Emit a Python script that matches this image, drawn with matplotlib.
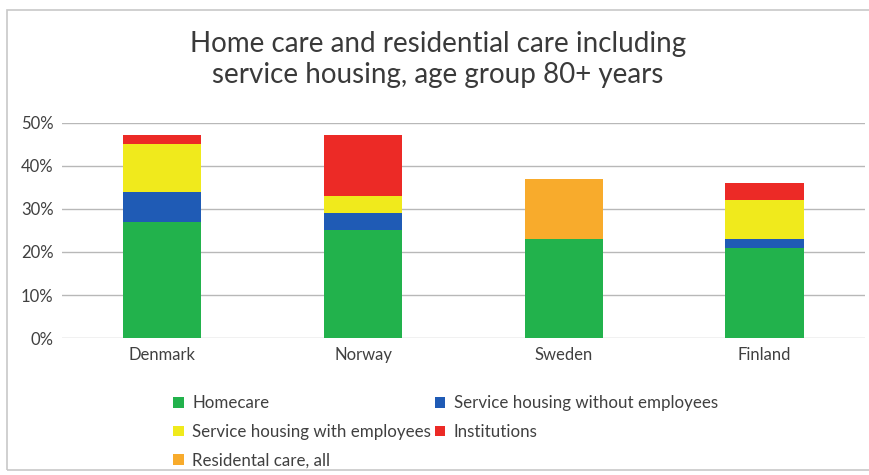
import numpy as np
import matplotlib
matplotlib.use("Agg")
import matplotlib.pyplot as plt
from matplotlib.patches import Rectangle

countries = ["Denmark", "Norway", "Sweden", "Finland"]
series_names = ["Homecare", "Service housing without employees",
                "Service housing with employees", "Institutions",
                "Residental care, all"]
homecare = [27, 25, 23, 21]
housing_without = [7, 4, 0, 2]
housing_with = [11, 4, 0, 9]
institutions = [2, 14, 0, 4]
residential_all = [0, 0, 14, 0]
colors = ["#22b24c", "#1f5bb5", "#f0ea1c", "#ec2a26", "#f8ab2c"]

plt.rcParams["font.family"] = ["Lato", "DejaVu Sans"]

fig = plt.figure(figsize=(8.69, 4.75), dpi=100)
ax = fig.add_axes([0.0713, 0.288, 0.924, 0.454])

x = np.arange(len(countries))
bottom = np.zeros(len(countries))
handles = []
for name, vals, c in zip(series_names,
                         [homecare, housing_without, housing_with, institutions, residential_all],
                         colors):
    b = ax.bar(x, vals, 0.39, bottom=bottom, color=c, label=name, zorder=3)
    handles.append(b)
    bottom += np.array(vals)

ax.set_xlim(-0.5, len(countries) - 0.5)
ax.set_ylim(0, 50)
ax.set_yticks(range(0, 51, 10))
ax.set_yticklabels([f"{v}%" for v in range(0, 51, 10)], fontsize=12, color="#404040")
ax.set_xticks(x)
ax.set_xticklabels(countries, fontsize=12, color="#404040")
ax.tick_params(length=0, pad=6)
ax.grid(axis="y", color="#b8b8b8", linewidth=1, zorder=0)
for s in ax.spines.values():
    s.set_visible(False)

fig.text(0.504, 0.875, "Home care and residential care including\nservice housing, age group 80+ years",
         ha="center", va="center", fontsize=20, color="#3a3a3a", linespacing=1.25)

# legend is filled column by column, so reorder to read row by row
order = [0, 2, 4, 1, 3]
fig.legend([handles[i] for i in order], [series_names[i] for i in order],
           loc="upper left", bbox_to_anchor=(0.182, 0.2), ncol=2, frameon=False,
           fontsize=12.2, handlelength=0.6, handleheight=0.6, handletextpad=0.5,
           columnspacing=0.25, labelspacing=0.75, labelcolor="#404040")

fig.patches.append(Rectangle((0.008, 0.01), 1.2, 0.97, transform=fig.transFigure,
                             fill=False, edgecolor="#c8c8c8", linewidth=1.2))

fig.savefig("out.png", dpi=100, facecolor="white")
